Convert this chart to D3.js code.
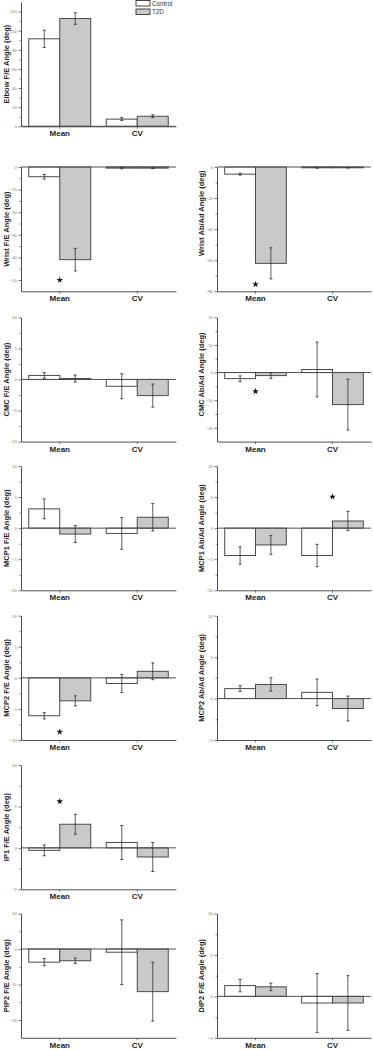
<!DOCTYPE html>
<html><head><meta charset="utf-8">
<script src="https://cdn.jsdelivr.net/npm/d3@7"></script>
<style>body{margin:0;background:#fff}svg{display:block}</style>
</head><body><svg id="c" width="373" height="1050"></svg>
<script>
// ---------------- data ----------------
const groups = ["Mean", "CV"];
const seriesNames = ["Control", "T2D"];
const axisLabels = [
  "Elbow F/E Angle (deg)", "Wrist F/E Angle (deg)", "Wrist Ab/Ad Angle (deg)",
  "CMC F/E Angle (deg)", "CMC Ab/Ad Angle (deg)", "MCP1 F/E Angle (deg)",
  "MCP1 Ab/Ad Angle (deg)", "MCP2 F/E Angle (deg)", "MCP2 Ab/Ad Angle (deg)",
  "IP1 F/E Angle (deg)", "PIP2 F/E Angle (deg)", "DIP2 F/E Angle (deg)"
];
const yDomains = [
  [0, 130], [-55, 0], [-80, 0], [-10, 10], [-25, 20], [-10, 10],
  [-10, 10], [-10, 10], [-5, 10], [-5, 10], [-25, 10], [-5, 10]
];
const yTickValues = [
  [0, 20, 40, 60, 80, 100, 120], [-50, -40, -30, -20, -10, 0], [-80, -60, -40, -20, 0],
  [-10, -5, 0, 5, 10], [-20, -10, 0, 10, 20], [-10, -5, 0, 5, 10],
  [-10, -5, 0, 5, 10], [-10, -5, 0, 5, 10], [-5, 0, 5, 10], [-5, 0, 5, 10],
  [-20, -10, 0, 10], [-5, 0, 5, 10]
];
// [Mean, CV] per panel
const controlValues = [
  [91.5, 7.5], [-4.3, -0.5], [-4.6, -0.5], [0.65, -1.1], [-2.2, 1.1], [3.1, -0.85],
  [-4.4, -4.4], [-6.1, -0.9], [1.2, 0.75], [-0.3, 0.65], [-3.7, -0.9], [1.3, -0.8]
];
const controlErrors = [
  [9, 1.5], [1, 0.3], [0.6, 0.3], [0.45, 2], [1, 9.9], [1.6, 2.55],
  [1.4, 1.8], [0.5, 1.45], [0.35, 1.6], [0.65, 2.05], [1, 9.1], [0.75, 3.55]
];
const t2dValues = [
  [112.7, 10.5], [-41, -0.5], [-62, -0.5], [0.15, -2.6], [-1.1, -11.6], [-0.95, 1.75],
  [-2.7, 1.15], [-3.7, 1.05], [1.7, -1.2], [2.85, -1.1], [-3.3, -12], [1.15, -0.8]
];
const t2dErrors = [
  [6, 1.5], [5, 0.2], [10, 0.2], [0.55, 1.85], [1, 9.2], [1.35, 2.2],
  [1.5, 1.55], [0.8, 1.35], [0.8, 1.5], [1.2, 1.75], [0.75, 8.3], [0.45, 3.3]
];
const starPanels = [1, 2, 4, 6, 7, 9];
const starGroups = ["Mean", "Mean", "Mean", "CV", "Mean", "Mean"];
const starValues = [-50, -75.5, -6.8, 5.05, -8.7, 5.6];

// ---------------- layout ----------------
const panelRow = [0, 1, 1, 2, 2, 3, 3, 4, 4, 5, 6, 6];
const panelCol = [0, 0, 1, 0, 1, 0, 1, 0, 1, 0, 0, 1];
const rowTop = [2, 167, 317.3, 466, 615.7, 765, 913.5];
const panelH = 124.3;
const colRange = [[21, 176], [217, 371]];
const labelX = [6, 201];
const labelShift = [0, 0, -16, 0, -5, 0, 0, 0, 0, 0, 0, 0];
const fills = {Control: "#ffffff", T2D: "#c9c9c9"};
const axisColor = "#505050";

const svg = d3.select("#c");

axisLabels.forEach((lab, i) => {
  const r = panelRow[i], c = panelCol[i];
  const top = rowTop[r], bottom = top + panelH;
  const [x0, x1] = colRange[c];
  const g = svg.append("g");

  const y = d3.scaleLinear().domain(yDomains[i]).range([bottom, top]);
  const x = d3.scaleBand().domain(groups).range([x0, x1]).paddingInner(0).paddingOuter(0);
  const xs = d3.scaleBand().domain(seriesNames).range([0, x.bandwidth()]).paddingInner(0).paddingOuter(0.25);

  // y axis (major + minor)
  const ticks = yTickValues[i];
  const stepT = ticks[1] - ticks[0];
  const minor = ticks.map(t => t + stepT / 2).filter(t => t > yDomains[i][0] && t < yDomains[i][1]);
  const ya = g.append("g").attr("transform", `translate(${x0},0)`)
    .call(d3.axisLeft(y).tickValues(ticks).tickSize(2.5).tickSizeOuter(0).tickPadding(1.5).tickFormat(d3.format("d")));
  ya.select(".domain").attr("stroke", axisColor).attr("stroke-width", 1);
  ya.selectAll(".tick line").attr("stroke", axisColor).attr("stroke-width", 0.8);
  ya.selectAll(".tick text").attr("font-family", "Liberation Sans, Arial, sans-serif")
    .attr("font-size", 4.3).attr("fill", "#777");
  const ym = g.append("g").attr("transform", `translate(${x0},0)`)
    .call(d3.axisLeft(y).tickValues(minor).tickSize(1.5).tickSizeOuter(0).tickFormat(""));
  ym.select(".domain").remove();
  ym.selectAll(".tick line").attr("stroke", axisColor).attr("stroke-width", 0.7);

  // x axis at bottom
  const xa = g.append("g").attr("transform", `translate(0,${bottom})`)
    .call(d3.axisBottom(x).tickSize(2.5).tickSizeOuter(0).tickPadding(2));
  xa.select(".domain").attr("stroke", axisColor).attr("stroke-width", 1);
  xa.selectAll(".tick line").attr("stroke", axisColor).attr("stroke-width", 0.8);
  xa.selectAll(".tick text").attr("font-family", "Liberation Sans, Arial, sans-serif")
    .attr("font-size", 8).attr("font-weight", "bold").attr("fill", "#222");

  // bars
  const rows = [];
  groups.forEach((grp, gi) => {
    rows.push({grp, s: "Control", v: controlValues[i][gi], e: controlErrors[i][gi]});
    rows.push({grp, s: "T2D", v: t2dValues[i][gi], e: t2dErrors[i][gi]});
  });
  g.selectAll("rect.bar").data(rows).join("rect").attr("class", "bar")
    .attr("x", d => x(d.grp) + xs(d.s))
    .attr("width", xs.bandwidth())
    .attr("y", d => Math.min(y(d.v), y(0)))
    .attr("height", d => Math.abs(y(d.v) - y(0)))
    .attr("fill", d => fills[d.s])
    .attr("stroke", "#4a4a4a").attr("stroke-width", 1);

  // zero line
  g.append("line").attr("x1", x0).attr("x2", x1).attr("y1", y(0)).attr("y2", y(0))
    .attr("stroke", axisColor).attr("stroke-width", 1);

  // error bars
  const eb = g.selectAll("g.err").data(rows).join("g").attr("class", "err")
    .attr("transform", d => `translate(${x(d.grp) + xs(d.s) + xs.bandwidth() / 2},0)`);
  eb.append("line").attr("y1", d => y(d.v + d.e)).attr("y2", d => y(d.v - d.e))
    .attr("stroke", "#333").attr("stroke-width", 0.8);
  eb.append("line").attr("x1", -1.5).attr("x2", 1.5).attr("y1", d => y(d.v + d.e)).attr("y2", d => y(d.v + d.e))
    .attr("stroke", "#333").attr("stroke-width", 0.9);
  eb.append("line").attr("x1", -1.5).attr("x2", 1.5).attr("y1", d => y(d.v - d.e)).attr("y2", d => y(d.v - d.e))
    .attr("stroke", "#333").attr("stroke-width", 0.9);

  // stars
  starPanels.forEach((p, k) => {
    if (p !== i) return;
    g.append("path").attr("d", d3.symbol(d3.symbolStar, 14)())
      .attr("transform", `translate(${x(starGroups[k]) + x.bandwidth() / 2},${y(starValues[k])})`)
      .attr("fill", "#111");
  });

  // y label
  const cy = (top + bottom) / 2 + labelShift[i];
  g.append("text").attr("transform", `translate(${labelX[c]},${cy}) rotate(-90)`)
    .attr("text-anchor", "middle").attr("dominant-baseline", "central")
    .attr("font-family", "Liberation Sans, Arial, sans-serif")
    .attr("font-size", 7.5).attr("font-weight", "bold").attr("fill", "#222")
    .text(lab);
});

// legend
const lg = svg.append("g");
seriesNames.forEach((s, k) => {
  lg.append("rect").attr("x", 136).attr("y", 0.5 + k * 8.5).attr("width", 14).attr("height", 5.5)
    .attr("fill", fills[s]).attr("stroke", "#333").attr("stroke-width", 0.9);
  lg.append("text").attr("x", 152).attr("y", 3.3 + k * 8.5).attr("dominant-baseline", "central")
    .attr("font-family", "Liberation Sans, Arial, sans-serif").attr("font-size", 6.3).attr("fill", "#333")
    .text(s);
});
</script></body></html>
